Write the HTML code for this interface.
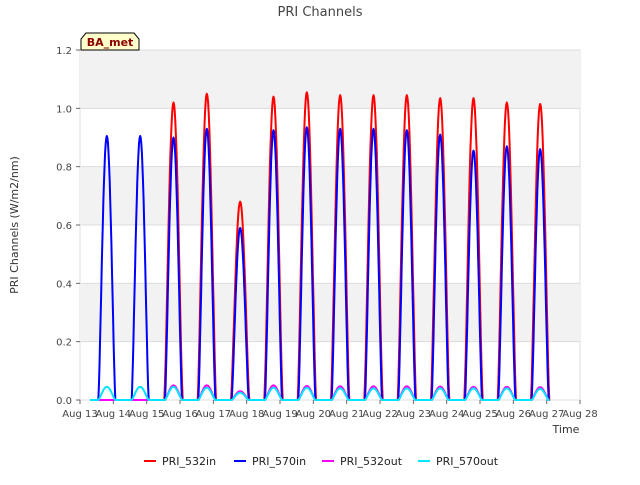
<!DOCTYPE html>
<html><head><meta charset="utf-8">
<style>
body{margin:0;background:#fff;font-family:"Liberation Sans","DejaVu Sans",sans-serif;}
svg text{font-family:"DejaVu Sans","Liberation Sans",sans-serif;}
</style></head>
<body>
<svg id="chart" width="640" height="480" viewBox="0 0 640 480">
<text x="320" y="16" text-anchor="middle" font-size="13" fill="#444">PRI Channels</text>
<g id="plot"></g>
<text x="18" y="225" transform="rotate(-90 18 225)" text-anchor="middle" font-size="11" fill="#333">PRI Channels (W/m2/nm)</text>
<text x="566" y="433" text-anchor="middle" font-size="11" fill="#333">Time</text>
<g>
<path d="M81,50 L81,39 L86,33 L134,33 L139,39 L139,50 Z" fill="#ffffcc" stroke="#000" stroke-width="1"/>
<text x="110" y="46" text-anchor="middle" font-size="11" font-weight="bold" fill="#8b0000">BA_met</text>
</g>
<g id="legend"></g>
</svg>
<script>
const days=["Aug 13","Aug 14","Aug 15","Aug 16","Aug 17","Aug 18","Aug 19","Aug 20","Aug 21","Aug 22","Aug 23","Aug 24","Aug 25","Aug 26","Aug 27","Aug 28"];
const yTicks=[0.0,0.2,0.4,0.6,0.8,1.0,1.2];
const peak532in=[null,null,1.02,1.05,0.68,1.04,1.055,1.045,1.045,1.045,1.035,1.035,1.02,1.015];
const peak570in=[0.905,0.905,0.90,0.93,0.59,0.925,0.935,0.93,0.93,0.925,0.91,0.855,0.87,0.86];
const peak532out=[0,0,0.05,0.05,0.03,0.05,0.048,0.047,0.047,0.047,0.046,0.045,0.045,0.044];
const peak570out=[0.045,0.045,0.045,0.042,0.025,0.042,0.042,0.04,0.04,0.04,0.04,0.04,0.04,0.038];
const NS="http://www.w3.org/2000/svg";
const X0=80,X1=580,Y0=400,Y1=50;
const xs=d=>X0+(X1-X0)*d/15;
const ys=v=>Y0-(Y0-Y1)*v/1.2;
const plot=document.getElementById('plot');
function mk(t,a,p){const e=document.createElementNS(NS,t);for(const k in a)e.setAttribute(k,a[k]);(p||plot).appendChild(e);return e;}
const bg=mk('rect',{x:X0,y:Y1,width:X1-X0,height:Y0-Y1,fill:'#fff',stroke:'#ddd'});


[[1.0,1.2],[0.6,0.8],[0.2,0.4]].forEach(b=>{const r=mk('rect',{x:X0,y:ys(b[1]),width:X1-X0,height:ys(b[0])-ys(b[1]),fill:'#f2f2f2'});

});
yTicks.forEach(v=>{const l=mk('line',{x1:X0,x2:X1,y1:ys(v),y2:ys(v),stroke:'#dcdcdc'});


mk('line',{x1:X0-4,x2:X0,y1:ys(v),y2:ys(v),stroke:'#666'});
const t=mk('text',{x:X0-8,y:ys(v)+4,'text-anchor':'end','font-size':10,fill:'#444'});t.textContent=v.toFixed(1);

});
days.forEach((d,i)=>{mk('line',{x1:xs(i),x2:xs(i),y1:Y0,y2:Y0+4,stroke:'#666'});
const t=mk('text',{x:xs(i),y:Y0+17,'text-anchor':'middle','font-size':10,fill:'#444'});t.textContent=d;

});
function series(peaks,color,name,w0,w1){
 let pts=[];
 pts.push([xs(0.3),ys(0)]);
 peaks.forEach((p,i)=>{
  if(p===null)return;
  const s=i+w0,e=i+w1,n=30;
  pts.push([xs(s),ys(0)]);
  for(let k=0;k<=n;k++){const f=k/n;const t=s+(e-s)*f;pts.push([xs(t),ys(p*Math.pow(Math.sin(Math.PI*f),1.3))]);}
  pts.push([xs(e),ys(0)]);
 });
 pts.push([xs(14.0),ys(0)]);
 const pl=mk('polyline',{points:pts.map(p=>p.map(v=>v.toFixed(1)).join(',')).join(' '),fill:'none',stroke:color,'stroke-width':2,'stroke-linejoin':'round'});
 
 
}
series(peak532in,'#ff0000','series-pri-532in',0.53,1.08);
series(peak570in,'#0000ff','series-pri-570in',0.55,1.06);
series(peak532out,'#ff00ff','series-pri-532out',0.55,1.06);
series(peak570out,'#00e5ff','series-pri-570out',0.55,1.06);
const leg=document.getElementById('legend');
[['PRI_532in','#ff0000'],['PRI_570in','#0000ff'],['PRI_532out','#ff00ff'],['PRI_570out','#00e5ff']].forEach((s,i)=>{
 const x=[144,234,322,418][i];
 const g=mk('g',{},leg);
 
 
 mk('line',{x1:x,x2:x+12,y1:461,y2:461,stroke:s[1],'stroke-width':2},g);
 const t=mk('text',{x:x+18,y:465,'font-size':11,fill:'#222'},g);t.textContent=s[0];
});
</script>
</body></html>
